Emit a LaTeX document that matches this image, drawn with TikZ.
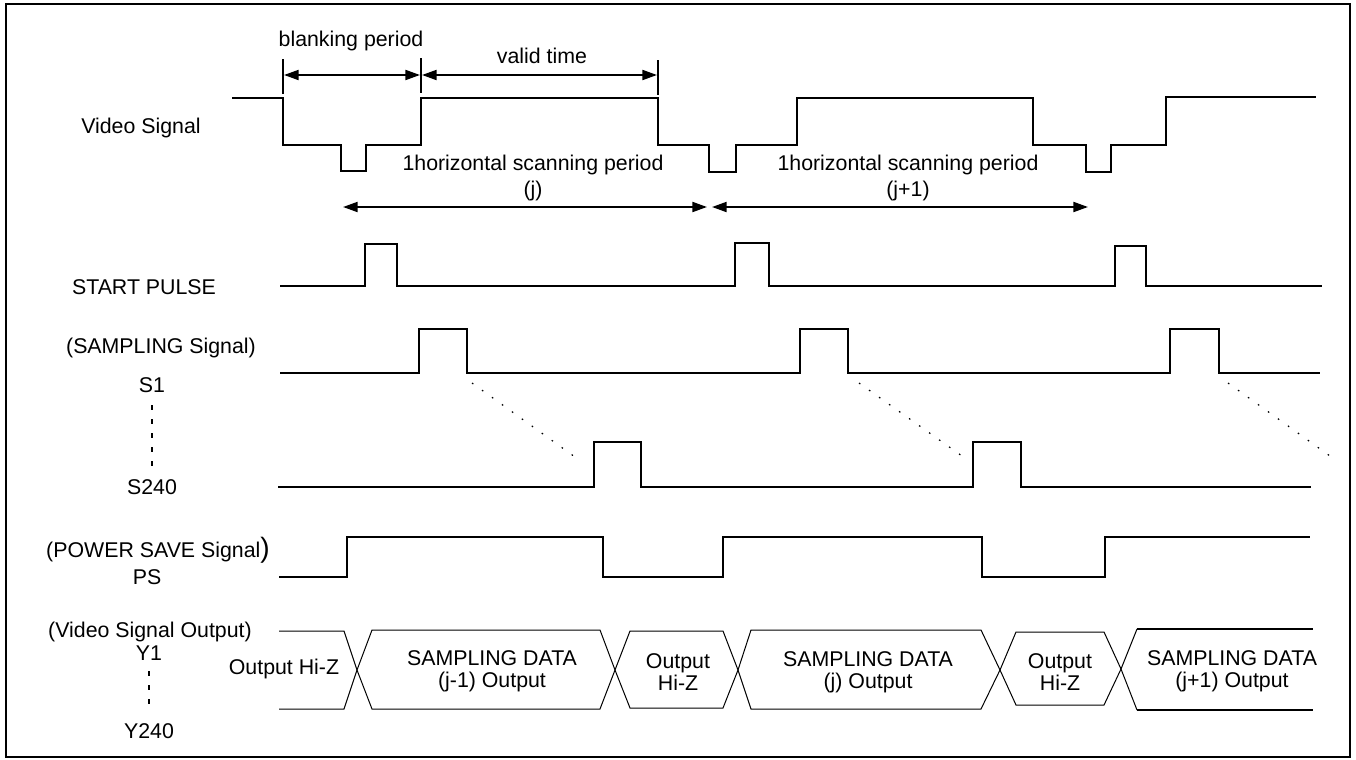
\documentclass[tikz,border=0pt]{standalone}
\usepackage{fontspec}
\setmainfont{Liberation Sans}
\usetikzlibrary{arrows.meta}
\tikzset{
  wave/.style={line width=1.5pt, line join=miter},
  bus/.style={line width=0.75pt, line join=miter},
  busthick/.style={line width=1.5pt},
  tick/.style={line width=1.5pt},
  dimarrow/.style={line width=1.5pt, {Triangle[length=11pt,width=7.5pt]}-{Triangle[length=11pt,width=7.5pt]}},
  diag/.style={line width=0.9pt, dash pattern=on 1.2pt off 8pt},
  vdots/.style={line width=1.5pt, dash pattern=on 3.75pt off 6.75pt},
  lbl/.style={inner sep=0pt, font=\fontsize{16}{17.5}\selectfont, align=center},
  lbl2/.style={inner sep=0pt, font=\fontsize{16}{16.4}\selectfont, align=center}
}
\begin{document}
\begin{tikzpicture}[x=0.75pt,y=-0.75pt]
\useasboundingbox (0,0) rectangle (1356,760);
\draw[line width=2pt] (6,4) rectangle (1350,757);

% ---------- Video signal ----------
\node[lbl] (vs) at (141,128) {Video Signal};
\draw[wave] (232,98) -- (283,98) -- (283,145) -- (341,145) -- (341,171) -- (366,171) -- (366,145) -- (421,145) -- (421,98) -- (658,98) -- (658,145) -- (709,145) -- (709,172) -- (736,172) -- (736,145) -- (797,145) -- (797,98) -- (1033,98) -- (1033,145) -- (1086,145) -- (1086,172) -- (1111,172) -- (1111,145) -- (1166,145) -- (1166,97) -- (1316,97);

% ticks and dimension arrows
\coordinate (t1a) at (283,59); \coordinate (t1b) at (283,94);
\coordinate (t2a) at (421,58); \coordinate (t2b) at (421,93);
\coordinate (t3a) at (658,60); \coordinate (t3b) at (658,95);
\draw[tick] (t1a) -- (t1b);
\draw[tick] (t2a) -- (t2b);
\draw[tick] (t3a) -- (t3b);
\coordinate (b1) at (284,75); \coordinate (b2) at (420,75);
\coordinate (v1) at (422,75); \coordinate (v2) at (657,75);
\draw[dimarrow] (b1) -- (b2);
\draw[dimarrow] (v1) -- (v2);
\node[lbl] (blank) at (351,41) {blanking period};
\node[lbl] (valid) at (542,56) {valid time};

\coordinate (h1a) at (343,207); \coordinate (h1b) at (707,207);
\coordinate (h2a) at (712,207); \coordinate (h2b) at (1088,207);
\draw[dimarrow] (h1a) -- (h1b);
\draw[dimarrow] (h2a) -- (h2b);
\node[lbl] (hs1) at (533,165) {1horizontal scanning period};
\node[lbl] (hj1) at (533,191) {(j)};
\node[lbl] (hs2) at (908,165) {1horizontal scanning period};
\node[lbl] (hj2) at (908,191) {(j+1)};

% ---------- Start pulse ----------
\node[lbl] (sp) at (144,287) {START PULSE};
\draw[wave] (280,286) -- (365,286) -- (365,244) -- (397,244) -- (397,286) -- (735,286) -- (735,243) -- (769,243) -- (769,286) -- (1115,286) -- (1115,246) -- (1146,246) -- (1146,286) -- (1322,286);

% ---------- Sampling ----------
\node[lbl] (smp) at (161,348) {(SAMPLING Signal)};
\node[lbl] (s1) at (152,385) {S1};
\node[lbl] (s240) at (152,487) {S240};
\draw[vdots] (152,405) -- (152,468);
\draw[wave] (280,373) -- (419,373) -- (419,329) -- (467,329) -- (467,373) -- (800,373) -- (800,329) -- (848,329) -- (848,373) -- (1170,373) -- (1170,329) -- (1219,329) -- (1219,373) -- (1320,373);
\draw[wave] (278,487) -- (594,487) -- (594,442) -- (641,442) -- (641,487) -- (973,487) -- (973,442) -- (1021,442) -- (1021,487) -- (1311,487);
\draw[diag] (472,383) -- (575,457);
\draw[diag] (859,383) -- (962,456);
\draw[diag] (1228,383) -- (1330,456);

% ---------- Power save ----------
\node[lbl] (psl) at (158,550) {(POWER SAVE Signal{\fontsize{21}{21}\selectfont)}};
\node[lbl] (ps) at (147,577) {PS};
\draw[wave] (279,577) -- (347,577) -- (347,537) -- (603,537) -- (603,577) -- (723,577) -- (723,537) -- (982,537) -- (982,577) -- (1105,577) -- (1105,537) -- (1310,537);

% ---------- Video signal output ----------
\node[lbl] (vso) at (150,632) {(Video Signal Output)};
\node[lbl] (y1) at (149,653) {Y1};
\node[lbl] (y240) at (149,731) {Y240};
\draw[vdots] (149,671) -- (149,711);
\node[lbl] (hiz0) at (284,669) {Output Hi-Z};

\draw[bus] (279,631) -- (344,631) -- (357,670) -- (344,709) -- (279,709);
\draw[bus] (357,670) -- (372,630) -- (600,630) -- (615,670) -- (600,709) -- (372,709) -- cycle;
\draw[bus] (615,670) -- (630,631) -- (723,631) -- (738,670) -- (723,708) -- (630,708) -- cycle;
\draw[bus] (738,670) -- (751,630) -- (981,630) -- (1000,670) -- (981,709) -- (751,709) -- cycle;
\draw[bus] (1000,670) -- (1016,632) -- (1104,632) -- (1121,669) -- (1104,705) -- (1016,705) -- cycle;
\draw[bus] (1137,629) -- (1121,669) -- (1137,710);
\draw[busthick] (1137,629) -- (1313,629);
\draw[busthick] (1137,710) -- (1313,710);

\node[lbl2] (dA) at (492,671) {SAMPLING DATA\\(j-1) Output};
\node[lbl2] (zB) at (678,672) {Output\\Hi-Z};
\node[lbl2] (dC) at (868,672) {SAMPLING DATA\\(j) Output};
\node[lbl2] (zD) at (1060,672) {Output\\Hi-Z};
\node[lbl2] (dE) at (1232,671) {SAMPLING DATA\\(j+1) Output};
\end{tikzpicture}
\end{document}
